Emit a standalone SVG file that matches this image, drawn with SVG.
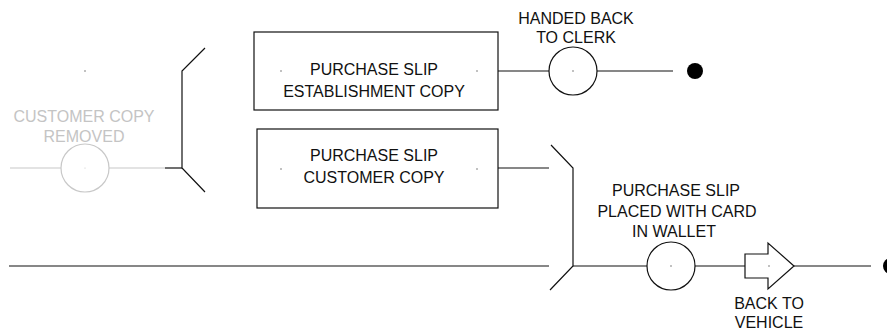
<svg xmlns="http://www.w3.org/2000/svg" width="887" height="332" viewBox="0 0 887 332">
  <style>
    .ln { stroke: #111; stroke-width: 1.2; fill: none; }
    .shape { stroke: #111; stroke-width: 1.2; fill: #fff; }
    .faded { stroke: #c8c8c8; stroke-width: 1.2; fill: none; }
    .lbl { font-family: "Liberation Sans", Arial, sans-serif; font-size: 16px; fill: #111; text-anchor: middle; }
    .lbl-faded { font-family: "Liberation Sans", Arial, sans-serif; font-size: 16px; fill: #c4c4c4; text-anchor: middle; }
    .pt { fill: #555; }
    .stop { fill: #000; }
  </style>

  <!-- connectors -->
  <g id="connectors">
    <line class="faded" x1="10" y1="168" x2="61" y2="168"/>
    <line class="faded" x1="109" y1="168" x2="165" y2="168"/>
    <line class="ln" x1="165" y1="168" x2="182" y2="168"/>
    <line class="ln" x1="498" y1="71" x2="549" y2="71"/>
    <line class="ln" x1="597" y1="71" x2="673" y2="71"/>
    <line class="ln" x1="498" y1="168" x2="549" y2="168"/>
    <line class="ln" x1="9" y1="266" x2="549" y2="266"/>
    <line class="ln" x1="573" y1="266" x2="647" y2="266"/>
    <line class="ln" x1="695" y1="266" x2="745" y2="266"/>
    <line class="ln" x1="794" y1="266" x2="871" y2="266"/>
  </g>

  <!-- customer copy removed (faded) -->
  <g id="customer-copy-removed">
    <circle class="pt" cx="85" cy="71" r="0.7"/>
    <text class="lbl-faded" x="84" y="122">CUSTOMER COPY</text>
    <text class="lbl-faded" x="84" y="142">REMOVED</text>
    <circle class="faded" cx="85" cy="168" r="24"/>
    <circle cx="85" cy="168" r="0.6" fill="#c8c8c8"/>
  </g>

  <!-- split junction -->
  <g id="split">
    <polyline class="ln" points="205,48 182,71 182,168 205,192"/>
  </g>

  <!-- establishment copy -->
  <g id="establishment-copy">
    <rect class="shape" x="254" y="32" width="244" height="78"/>
    <text class="lbl" x="374" y="75">PURCHASE SLIP</text>
    <text class="lbl" x="374" y="97">ESTABLISHMENT COPY</text>
    <circle class="pt" cx="281" cy="71" r="0.7"/>
    <circle class="pt" cx="477" cy="71" r="0.7"/>
  </g>

  <!-- handed back to clerk -->
  <g id="handed-back">
    <text class="lbl" x="576" y="24">HANDED BACK</text>
    <text class="lbl" x="576" y="43">TO CLERK</text>
    <circle class="shape" cx="573" cy="71" r="24"/>
    <circle class="pt" cx="573" cy="71" r="0.7"/>
  </g>

  <g id="end-clerk">
    <circle class="stop" cx="695" cy="71" r="8"/>
  </g>

  <!-- customer copy -->
  <g id="customer-copy">
    <rect class="shape" x="257" y="129" width="241" height="79"/>
    <text class="lbl" x="374" y="161">PURCHASE SLIP</text>
    <text class="lbl" x="374" y="183">CUSTOMER COPY</text>
    <circle class="pt" cx="281" cy="169" r="0.7"/>
    <circle class="pt" cx="477" cy="169" r="0.7"/>
  </g>

  <!-- merge junction -->
  <g id="merge">
    <polyline class="ln" points="551,145 573,168 573,266 550,290"/>
  </g>

  <!-- placed in wallet -->
  <g id="in-wallet">
    <text class="lbl" x="676" y="196">PURCHASE SLIP</text>
    <text class="lbl" x="677" y="217">PLACED WITH CARD</text>
    <text class="lbl" x="674" y="237">IN WALLET</text>
    <circle class="shape" cx="671" cy="266" r="24"/>
    <circle class="pt" cx="671" cy="266" r="0.7"/>
  </g>

  <!-- back to vehicle -->
  <g id="back-to-vehicle">
    <polygon class="shape" points="745,254 768,254 768,243 794,266 768,289 768,278 745,278"/>
    <circle class="pt" cx="769" cy="266" r="0.7"/>
    <text class="lbl" x="769" y="309">BACK TO</text>
    <text class="lbl" x="769" y="328">VEHICLE</text>
  </g>

  <g id="end-vehicle">
    <circle class="stop" cx="891" cy="266" r="8"/>
  </g>
</svg>
